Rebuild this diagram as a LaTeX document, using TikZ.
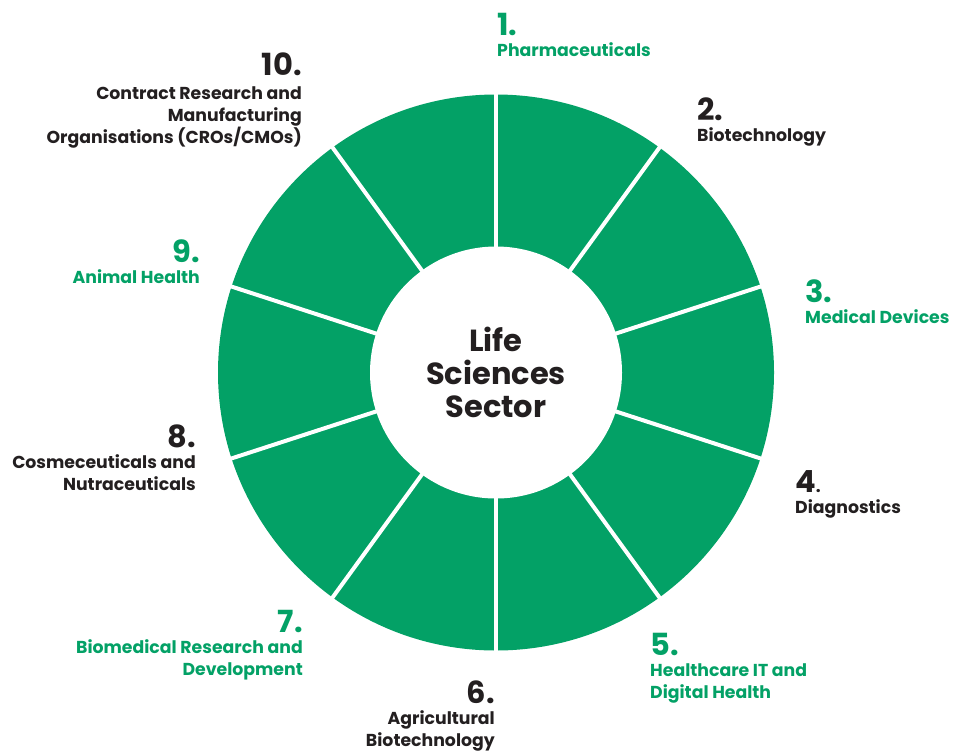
\documentclass[tikz,border=0pt]{standalone}
\usepackage{fontspec}
\setmainfont{Poppins}
\definecolor{lsgreen}{HTML}{03A166}
\definecolor{lsdark}{HTML}{231F20}
\newcommand{\lsnum}[1]{{\fontsize{30.5}{30}\selectfont #1}}
\newcommand{\Ltab}[1]{\begin{tabular}[t]{@{}l@{}}#1\end{tabular}}
\newcommand{\Rtab}[1]{\begin{tabular}[t]{@{}r@{}}#1\end{tabular}}
\tikzset{
  lbl/.style={inner sep=0pt, font=\fontsize{17.3}{21.5}\selectfont\bfseries},
  lblL/.style={lbl, anchor=base west},
  lblR/.style={lbl, anchor=base east},
  grn/.style={text=lsgreen},
  blk/.style={text=lsdark},
  divider/.style={white, line width=4pt},
  hubstyle/.style={circle, fill=white, minimum size=252pt, inner sep=0pt, align=center,
    text=lsdark, font=\fontsize{30.5}{33}\selectfont\bfseries}
}
\begin{document}
\begin{tikzpicture}[x=1pt,y=-1pt]
\useasboundingbox (0,0) rectangle (955,753);
\coordinate (c) at (496,372.5);
\fill[lsgreen] (c) circle[radius=278];
\foreach \a in {90,54,18,-18,-54,-90,-126,-162,-198,-234}
  \draw[divider] (c) -- ++(\a:282);
\node[hubstyle] (hub) at (c) {Life\\Sciences\\Sector};

\node[lblL,grn] (l1) at (497,35) {\Ltab{\lsnum{1.}\\Pharmaceuticals}};
\node[lblL,blk] (l2) at (697,120) {\Ltab{\lsnum{2.}\\Biotechnology}};
\node[lblL,grn] (l3) at (805,302) {\Ltab{\lsnum{3.}\\Medical Devices}};
\node[lblL,blk] (l4) at (795,492) {\Ltab{\lsnum{4}.\\Diagnostics}};
\node[lblL,grn] (l5) at (650,655) {\Ltab{\lsnum{5.}\\Healthcare IT and\\Digital Health}};
\node[lblR,blk] (l6) at (495,703) {\Rtab{\lsnum{6.}\\Agricultural\\Biotechnology}};
\node[lblR,grn] (l7) at (303,632) {\Rtab{\lsnum{7.}\\Biomedical Research and\\Development}};
\node[lblR,blk] (l8) at (196,447) {\Rtab{\lsnum{8.}\\Cosmeceuticals and\\Nutraceuticals}};
\node[lblR,grn] (l9) at (200,262) {\Rtab{\lsnum{9.}\\Animal Health}};
\node[lblR,blk] (l10) at (302,75) {\Rtab{\lsnum{10.}\\[3pt]Contract Research and\\Manufacturing\\Organisations (CROs/CMOs)}};
\end{tikzpicture}
\end{document}
